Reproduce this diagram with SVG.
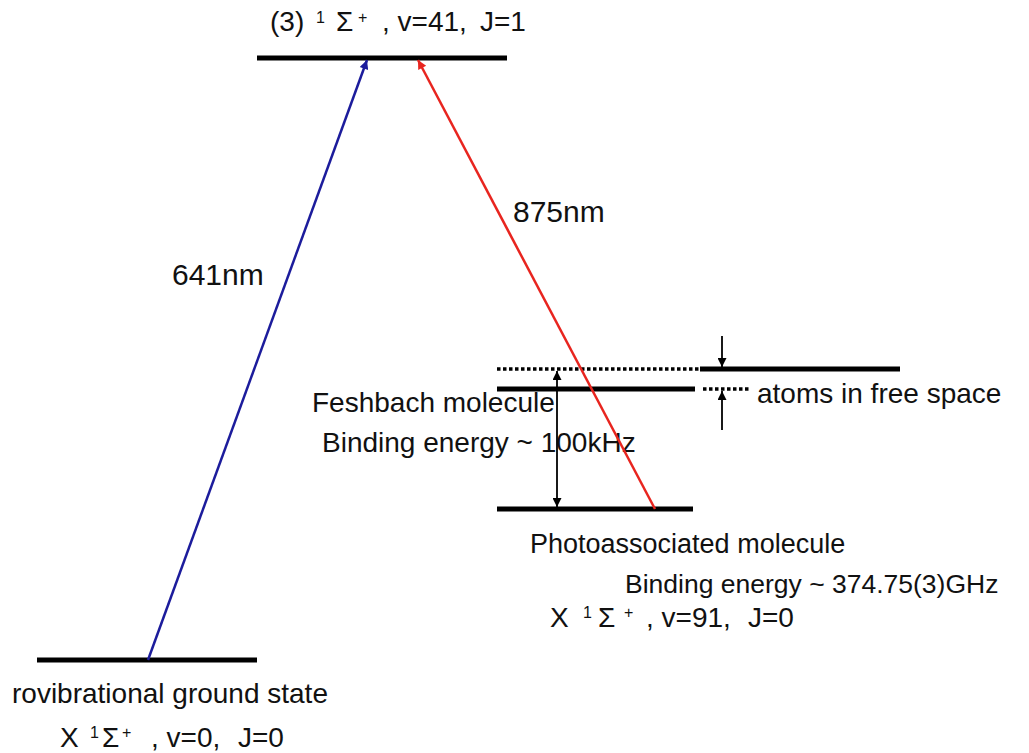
<svg xmlns="http://www.w3.org/2000/svg" width="1029" height="753" viewBox="0 0 1029 753">
<defs>
<style>
text{font-family:"Liberation Sans",Arial,sans-serif;font-size:28px;fill:#111}
.sup{font-size:16px}
.lbl{font-size:30px}
.lvl{stroke:#000;stroke-width:5;fill:none}
.dot{stroke:#000;stroke-width:3.5;stroke-dasharray:3.5 2.5;fill:none}
.arr{stroke:#000;stroke-width:1.8;fill:none}
</style>
<marker id="ah" viewBox="0 0 10 10" refX="10" refY="5" markerWidth="11" markerHeight="9" markerUnits="userSpaceOnUse" orient="auto-start-reverse"><path d="M0,0 L10,5 L0,10 z" fill="#000"/></marker>
<marker id="ahb" viewBox="0 0 10 10" refX="10" refY="5" markerWidth="11" markerHeight="9" markerUnits="userSpaceOnUse" orient="auto"><path d="M0,0 L10,5 L0,10 z" fill="#1c1c9c"/></marker>
<marker id="ahr" viewBox="0 0 10 10" refX="10" refY="5" markerWidth="11" markerHeight="9" markerUnits="userSpaceOnUse" orient="auto"><path d="M0,0 L10,5 L0,10 z" fill="#e8251f"/></marker>
</defs>
<g id="upper-level">
<line class="lvl" x1="257" y1="58" x2="507" y2="58"/>
<text y="31"><tspan x="270">(3)</tspan><tspan class="sup" x="316" y="23">1</tspan><tspan x="336" y="31">Σ</tspan><tspan class="sup" x="358" y="23">+</tspan><tspan x="382" y="31">, v=41,</tspan><tspan x="480">J=1</tspan></text>
</g>
<g id="ground-level">
<line class="lvl" x1="37" y1="660" x2="257" y2="660"/>
<text x="12" y="703">rovibrational ground state</text>
<text y="747"><tspan x="60">X</tspan><tspan class="sup" x="90" y="738">1</tspan><tspan x="102" y="747">Σ</tspan><tspan class="sup" x="122" y="738">+</tspan><tspan x="151" y="747">, v=0,</tspan><tspan x="238">J=0</tspan></text>
</g>
<g id="free-atoms">
<line class="dot" x1="497" y1="369" x2="700" y2="369"/>
<line class="lvl" x1="700" y1="369" x2="900" y2="369"/>
<text x="757" y="403">atoms in free space</text>
</g>
<g id="feshbach">
<line class="lvl" x1="497" y1="389" x2="695" y2="389"/>
<line class="dot" x1="703" y1="389" x2="749" y2="389"/>
<text x="312" y="412">Feshbach molecule</text>
<text x="322" y="452">Binding energy ~ 100kHz</text>
</g>
<g id="photoassociated">
<line class="lvl" x1="497" y1="509" x2="693" y2="509"/>
<text x="530" y="553" style="font-size:27px">Photoassociated molecule</text>
<text x="625" y="593" style="font-size:26.5px">Binding energy ~ 374.75(3)GHz</text>
<text y="627"><tspan x="550">X</tspan><tspan class="sup" x="583" y="618">1</tspan><tspan x="598" y="627">Σ</tspan><tspan class="sup" x="624" y="618">+</tspan><tspan x="646" y="627">, v=91,</tspan><tspan x="748">J=0</tspan></text>
</g>
<g id="connectors">
<line x1="148" y1="660" x2="367" y2="60" stroke="#1c1c9c" stroke-width="2.5" marker-end="url(#ahb)"/>
<line x1="655" y1="509" x2="418" y2="60" stroke="#e8251f" stroke-width="2.5" marker-end="url(#ahr)"/>
<line class="arr" x1="557" y1="371" x2="557" y2="507" marker-start="url(#ah)" marker-end="url(#ah)"/>
<line class="arr" x1="722" y1="336" x2="722" y2="367" marker-end="url(#ah)"/>
<line class="arr" x1="722" y1="430" x2="722" y2="391" marker-end="url(#ah)"/>
<text class="lbl" x="172" y="285">641nm</text>
<text class="lbl" x="513" y="222">875nm</text>
</g>
</svg>
